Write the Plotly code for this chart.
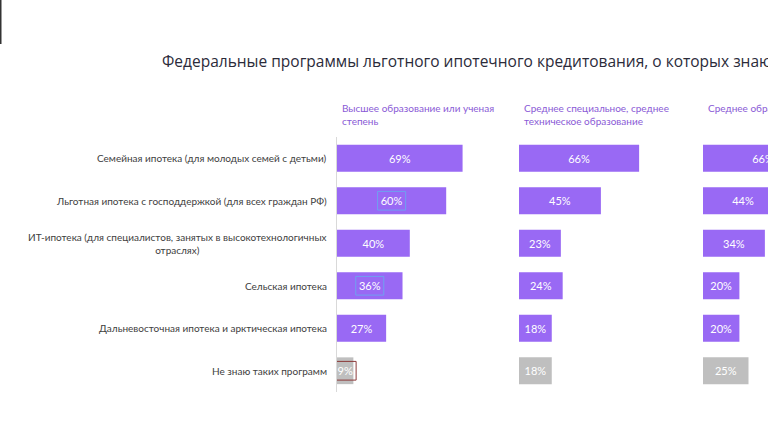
import plotly.graph_objects as go

W, H = 768, 431
ML, MR, MT, MB = 0, 0, 137, 39
PH = H - MT - MB

title_text = "Федеральные программы льготного ипотечного кредитования, о которых знают респонденты"
group_names = [
    "Высшее образование или ученая<br>степень",
    "Среднее специальное, среднее<br>техническое образование",
    "Среднее образование",
]
categories = [
    "Семейная ипотека (для молодых семей с детьми)",
    "Льготная ипотека с господдержкой (для всех граждан РФ)",
    "ИТ-ипотека (для специалистов, занятых в высокотехнологичных<br>отраслях)",
    "Сельская ипотека",
    "Дальневосточная ипотека и арктическая ипотека",
    "Не знаю таких программ",
]
higher_edu = [69, 60, 40, 36, 27, 9]
special_edu = [66, 45, 23, 24, 18, 18]
secondary_edu = [66, 44, 34, 20, 20, 25]
series = [higher_edu, special_edu, secondary_edu]

PURPLE = "#9969F4"
GREY = "#BFBFBF"
colors = [PURPLE] * 5 + [GREY]
FONT = "Lato"


def py(pix):
    """pixel row from top -> paper y"""
    return (H - MB - pix) / PH


def px(pix):
    return (pix - ML) / (W - ML - MR)


# panel geometry (pixels)
px_per_unit = 1.82
panel_left = [337, 519, 703]
domains = []
ranges = []
for left in panel_left:
    right = min(left + 100 * px_per_unit, W)
    domains.append([px(left), px(right)])
    ranges.append([0, (right - left) / px_per_unit])

fig = go.Figure()
axis_names = ["x", "x2", "x3"]
for i, vals in enumerate(series):
    fig.add_trace(go.Bar(
        x=vals, y=categories, orientation="h",
        xaxis=axis_names[i], yaxis="y",
        marker=dict(color=colors, line=dict(width=0)),
        text=[f"{v}%" for v in vals],
        textposition="inside", insidetextanchor="middle", textangle=0,
        textfont=dict(color="white", size=11, family=FONT),
        cliponaxis=True, showlegend=False, hoverinfo="skip",
    ))

layout = dict(
    width=W, height=H,
    margin=dict(l=ML, r=MR, t=MT, b=MB),
    paper_bgcolor="white", plot_bgcolor="white",
    bargap=0.37,
    uniformtext=dict(minsize=11, mode="show"),
    font=dict(family=FONT, color="#404040"),
    yaxis=dict(
        categoryorder="array", categoryarray=categories, autorange="reversed",
        showticklabels=False, showgrid=False, zeroline=False,
        showline=True, linecolor="#D9D9D9", linewidth=1, anchor="x",
        fixedrange=True,
    ),
)
for i in range(3):
    key = "xaxis" if i == 0 else f"xaxis{i+1}"
    layout[key] = dict(
        domain=domains[i], range=ranges[i], anchor="y",
        showticklabels=False, showgrid=False, zeroline=False, showline=False,
    )
fig.update_layout(**layout)

annotations = []
# title
annotations.append(dict(
    text=title_text, xref="paper", yref="paper", x=px(160), y=py(61),
    xanchor="left", yanchor="middle", showarrow=False,
    font=dict(size=15.5, color="#2B2B3A", family="Open Sans"),
))
# group headers
for i, name in enumerate(group_names):
    annotations.append(dict(
        text=name, xref="paper", yref="paper", x=px(panel_left[i] + 3), y=py(100),
        xanchor="left", yanchor="top", align="left", showarrow=False,
        font=dict(size=10, color="#8A5AD6", family=FONT),
    ))
# category labels
for c in categories:
    annotations.append(dict(
        text=c, xref="paper", yref="y", x=px(329), y=c,
        xanchor="right", yanchor="middle", align="center", showarrow=False,
        font=dict(size=10, color="#404040", family=FONT),
    ))
fig.update_layout(annotations=annotations)

# selection outline artifacts around some labels (derived from values)
shapes = []
for idx, color, half in [(1, "#6FA0F0", 7.7), (3, "#6FA0F0", 7.7), (5, "#8B3A3A", 6.0)]:
    v = higher_edu[idx]
    shapes.append(dict(
        type="rect", xref="x", yref="y",
        x0=v / 2 - half, x1=v / 2 + half, y0=idx - 0.22, y1=idx + 0.22,
        line=dict(color=color, width=1), fillcolor="rgba(0,0,0,0)",
    ))
# dark edge line top-left
shapes.append(dict(type="line", xref="paper", yref="paper",
                   x0=px(0.75), x1=px(0.75), y0=py(0), y1=py(44),
                   line=dict(color="#333333", width=1.5)))
fig.update_layout(shapes=shapes)

fig.write_html(
    "out.html",
    config={"displayModeBar": False},
    post_script="document.body.style.margin='0';document.body.style.overflow='hidden';",
)
